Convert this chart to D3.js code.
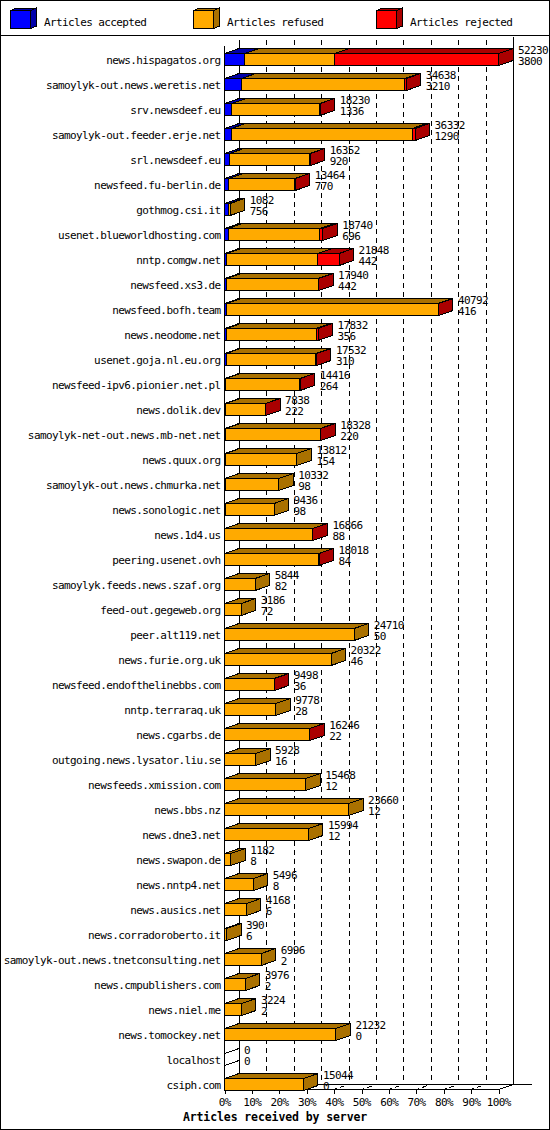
<!DOCTYPE html>
<html>
<head>
<meta charset="utf-8">
<script src="https://cdn.jsdelivr.net/npm/d3@7/dist/d3.min.js"></script>
<style>
  html, body { margin: 0; padding: 0; background: #fff; }
  svg { display: block; }
  text { font-family: "DejaVu Sans Mono", monospace; font-size: 11px; letter-spacing: -0.6px; fill: #000; }
</style>
</head>
<body>
<svg id="chart" width="550" height="1130"></svg>
<script>
// ---------- data ----------
const servers = [
  "news.hispagatos.org", "samoylyk-out.news.weretis.net", "srv.newsdeef.eu",
  "samoylyk-out.feeder.erje.net", "srl.newsdeef.eu", "newsfeed.fu-berlin.de",
  "gothmog.csi.it", "usenet.blueworldhosting.com", "nntp.comgw.net",
  "newsfeed.xs3.de", "newsfeed.bofh.team", "news.neodome.net",
  "usenet.goja.nl.eu.org", "newsfeed-ipv6.pionier.net.pl", "news.dolik.dev",
  "samoylyk-net-out.news.mb-net.net", "news.quux.org", "samoylyk-out.news.chmurka.net",
  "news.sonologic.net", "news.1d4.us", "peering.usenet.ovh",
  "samoylyk.feeds.news.szaf.org", "feed-out.gegeweb.org", "peer.alt119.net",
  "news.furie.org.uk", "newsfeed.endofthelinebbs.com", "nntp.terraraq.uk",
  "news.cgarbs.de", "outgoing.news.lysator.liu.se", "newsfeeds.xmission.com",
  "news.bbs.nz", "news.dne3.net", "news.swapon.de",
  "news.nntp4.net", "news.ausics.net", "news.corradoroberto.it",
  "samoylyk-out.news.tnetconsulting.net", "news.cmpublishers.com", "news.niel.me",
  "news.tomockey.net", "localhost", "csiph.com"
];
const offered = [
  52230, 34638, 18230, 36332, 16352, 13464, 1082, 18740, 21848, 17940,
  40792, 17832, 17532, 14416, 7838, 18328, 13812, 10332, 9436, 16866,
  18018, 5844, 3186, 24710, 20322, 9498, 9778, 16246, 5928, 15468,
  23660, 15994, 1182, 5496, 4168, 390, 6996, 3976, 3224, 21232, 0, 15044
];
const accepted = [
  3800, 3210, 1336, 1290, 920, 770, 756, 696, 442, 442,
  416, 356, 310, 264, 222, 220, 154, 98, 98, 88,
  84, 82, 72, 50, 46, 36, 28, 22, 16, 12,
  12, 12, 8, 8, 6, 6, 2, 2, 2, 0, 0, 0
];
const refused = [
  17190, 31160, 16784, 34500, 15342, 12634, 326, 17450, 17380, 17398,
  40316, 17096, 17072, 14052, 7556, 18028, 13658, 10234, 9338, 16678,
  17874, 5762, 3114, 24660, 20276, 9402, 9750, 16164, 5912, 15456,
  23648, 15982, 1174, 5488, 4162, 384, 6994, 3974, 3222, 21232, 0, 15044
];
const rejected = [
  31240, 268, 110, 542, 90, 60, 0, 594, 4026, 100,
  60, 380, 150, 100, 60, 80, 0, 0, 0, 100,
  60, 0, 0, 0, 0, 60, 0, 60, 0, 0,
  0, 0, 0, 0, 0, 0, 0, 0, 0, 0, 0, 0
];
const seriesNames = ["Articles accepted", "Articles refused", "Articles rejected"];
const tickPercents = [0, 10, 20, 30, 40, 50, 60, 70, 80, 90, 100];
const tickLabels = tickPercents.map(p => p + "%");
const axisTitle = "Articles received by server";

// ---------- styling / layout ----------
const frontColors = ["#0000ff", "#ffaa00", "#ff0000"];
const shadeColors = ["#0000aa", "#aa7100", "#aa0000"];
const DX = 14.5, DY = -5;
const W = 550, H = 1130;

const table = servers.map((s, i) => ({
  server: s, offered: offered[i],
  accepted: accepted[i], refused: refused[i], rejected: rejected[i]
}));
const keys = ["accepted", "refused", "rejected"];
const stacked = d3.stack().keys(keys)(table);

const maxTotal = d3.max(offered);
const x = d3.scaleLinear().domain([0, maxTotal]).range([224.5, 498.5]);
const pct = d3.scaleLinear().domain([0, 100]).range([224.5, 498.5]);
const y = d3.scalePoint().domain(servers).range([59, 1084]);

const svg = d3.select("#chart").attr("shape-rendering", "crispEdges");

// frame
svg.append("rect").attr("x", 0.5).attr("y", 0.5).attr("width", W - 1).attr("height", H - 1)
  .attr("fill", "#fff").attr("stroke", "#000");
svg.append("line").attr("x1", 0).attr("x2", W).attr("y1", 35.5).attr("y2", 35.5).attr("stroke", "#000");

// legend
const legend = svg.append("g");
seriesNames.forEach((name, k) => {
  const lx = 10.5 + k * 183, ly = 10.5, lw = 20, lh = 18, ldx = 6, ldy = -2.5;
  const g = legend.append("g");
  g.append("polygon")
    .attr("points", [[lx, ly], [lx + lw, ly], [lx + lw + ldx, ly + ldy], [lx + ldx, ly + ldy]].join(" "))
    .attr("fill", shadeColors[k]).attr("stroke", "#000");
  g.append("polygon")
    .attr("points", [[lx + lw, ly], [lx + lw + ldx, ly + ldy], [lx + lw + ldx, ly + lh + ldy], [lx + lw, ly + lh]].join(" "))
    .attr("fill", shadeColors[k]).attr("stroke", "#000");
  g.append("rect").attr("x", lx).attr("y", ly).attr("width", lw).attr("height", lh)
    .attr("fill", frontColors[k]).attr("stroke", "#000");
  g.append("text").attr("x", lx + 33.5).attr("y", 25.5).text(name);
});

// back plane + grid
const backTop = 40, backBottom = 1084.5, frontBottom = 1089.5;
const grid = svg.append("g");
tickPercents.slice(1, -1).forEach(p => {
  grid.append("line")
    .attr("x1", Math.round(pct(p) + DX) + 0.5).attr("x2", Math.round(pct(p) + DX) + 0.5)
    .attr("y1", backTop).attr("y2", backBottom)
    .attr("stroke", "#000").attr("stroke-dasharray", "5,4");
  grid.append("line")
    .attr("x1", pct(p)).attr("y1", frontBottom)
    .attr("x2", pct(p) + DX).attr("y2", backBottom)
    .attr("stroke", "#000").attr("stroke-dasharray", "3,3,5,8");
});
grid.append("line").attr("x1", pct(0) + DX).attr("x2", pct(0) + DX)
  .attr("y1", backTop).attr("y2", backBottom).attr("stroke", "#000");
grid.append("line").attr("x1", pct(100) + DX).attr("x2", pct(100) + DX)
  .attr("y1", 37).attr("y2", backBottom).attr("stroke", "#000");
grid.append("line").attr("x1", pct(0) + DX).attr("x2", 532)
  .attr("y1", backBottom).attr("y2", backBottom).attr("stroke", "#000");
grid.append("line").attr("x1", pct(0)).attr("y1", frontBottom)
  .attr("x2", pct(0) + DX).attr("y2", backBottom).attr("stroke", "#000");
grid.append("line").attr("x1", pct(100)).attr("y1", frontBottom)
  .attr("x2", pct(100) + DX).attr("y2", backBottom).attr("stroke", "#000");

// front axes
svg.append("line").attr("x1", pct(0)).attr("x2", pct(0)).attr("y1", 46).attr("y2", frontBottom).attr("stroke", "#000");
svg.append("line").attr("x1", pct(0)).attr("x2", pct(100)).attr("y1", frontBottom).attr("y2", frontBottom).attr("stroke", "#000");

// bars
const bars = svg.append("g");
table.forEach((d, i) => {
  const c = y(d.server);
  const top = c - 5.5, bot = c + 6.5;
  const g = bars.append("g");
  if (d.offered === 0) {
    g.append("line").attr("x1", x(0)).attr("y1", top).attr("x2", x(0) + DX).attr("y2", top + DY).attr("stroke", "#000");
    g.append("line").attr("x1", x(0)).attr("y1", bot).attr("x2", x(0) + DX).attr("y2", bot + DY).attr("stroke", "#000");
  }
  stacked.forEach((layer, k) => {
    const [a, b] = layer[i];
    if (b - a <= 0) return;
    const xa = x(a), xb = x(b);
    g.append("polygon")
      .attr("points", [[xa, top], [xb, top], [xb + DX, top + DY], [xa + DX, top + DY]].join(" "))
      .attr("fill", shadeColors[k]).attr("stroke", "#000");
    g.append("polygon")
      .attr("points", [[xb, top], [xb + DX, top + DY], [xb + DX, bot + DY], [xb, bot]].join(" "))
      .attr("fill", shadeColors[k]).attr("stroke", "#000");
    g.append("rect").attr("x", xa).attr("y", top).attr("width", xb - xa).attr("height", bot - top)
      .attr("fill", frontColors[k]).attr("stroke", "#000");
  });
  const tx = x(d.offered) + DX + 5;
  g.append("text").attr("x", tx).attr("y", c - 5).text(d.offered);
  g.append("text").attr("x", tx).attr("y", c + 6).text(d.accepted);
  svg.append("text").attr("x", 220.6).attr("y", c + 4.5).attr("text-anchor", "end").text(d.server);
});

// x ticks
const ticks = svg.append("g");
tickPercents.forEach((p, j) => {
  ticks.append("line").attr("x1", Math.round(pct(p)) + 0.5).attr("x2", Math.round(pct(p)) + 0.5)
    .attr("y1", frontBottom).attr("y2", frontBottom + 4.5).attr("stroke", "#000");
  ticks.append("text").attr("x", pct(p) + 0.3).attr("y", 1106).attr("text-anchor", "middle").text(tickLabels[j]);
});

svg.append("text").attr("x", 275).attr("y", 1121).attr("text-anchor", "middle")
  .style("font-weight", "bold").style("font-size", "11.5px").style("letter-spacing", "-0.1px")
  .text(axisTitle);
</script>
</body>
</html>
